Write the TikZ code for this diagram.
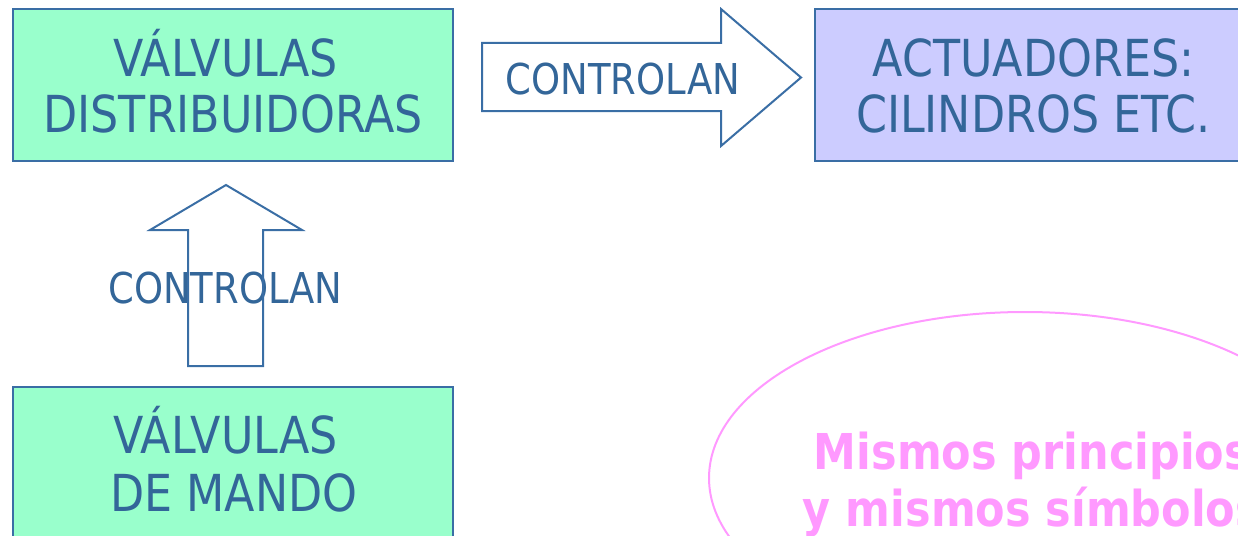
\documentclass[tikz,border=0pt]{standalone}
\usepackage{fontspec}
\setmainfont{DejaVu Sans}[FakeStretch=0.87]
\usetikzlibrary{shapes.geometric}
\definecolor{txtblue}{HTML}{336699}
\definecolor{lineblue}{HTML}{3A6EA5}
\definecolor{mint}{HTML}{99FFCC}
\definecolor{lav}{HTML}{CCCCFF}
\definecolor{pinkc}{HTML}{FF99FF}
\tikzset{
  box/.style={draw=lineblue, line width=2pt, minimum width=440pt, minimum height=152pt, inner sep=0pt},
  btxt/.style={text=txtblue, font=\fontsize{51pt}{56pt}\selectfont, inner sep=0pt, anchor=base},
  ctxt/.style={text=txtblue, font=\fontsize{42.5pt}{48pt}\selectfont, inner sep=0pt, anchor=base},
  ptxt/.style={text=pinkc, font=\bfseries\fontsize{49.4pt}{56pt}\selectfont, inner sep=0pt, anchor=base},
  blockarrow/.style={draw=lineblue, line width=2pt, line join=miter},
  oval/.style={ellipse, draw=pinkc, line width=2pt, minimum width=632pt, minimum height=332pt, inner sep=0pt}
}
\begin{document}
\begin{tikzpicture}[x=1pt,y=-1pt]
\useasboundingbox (0,0) rectangle (1238,535);
\clip (0,0) rectangle (1238,535);
% boxes
\node[box, fill=mint] (vd) at (233,85) {};
\node[box, fill=lav] (act) at (1035,85) {};
\node[box, fill=mint] (vm) at (233,463) {};
\node[btxt] (vd1) at (225.5,76) {VÁLVULAS};
\node[btxt] (vd2) at (233,132) {DISTRIBUIDORAS};
\node[btxt] (act1) at (1033.5,76) {ACTUADORES:};
\node[btxt] (act2) at (1033.5,132) {CILINDROS ETC.};
\node[btxt] (vm1) at (225.5,453) {VÁLVULAS};
\node[btxt] (vm2) at (234,511) {DE MANDO};
% right block arrow
\draw[blockarrow, fill=white] (482,43) -- (721,43) -- (721,9) -- (801,77.5) -- (721,146) -- (721,111) -- (482,111) -- cycle;
\node[ctxt] (c1) at (623,94) {CONTROLAN};
% up block arrow
\node[ctxt] (c2) at (225.5,303) {CONTROLAN};
\draw[blockarrow] (188,366) -- (188,230) -- (150,230) -- (226,185) -- (302,230) -- (263,230) -- (263,366) -- cycle;
% ellipse
\node[oval] (el) at (1025,478) {};
\node[ptxt] (p1) at (1032,469) {Mismos principios};
\node[ptxt] (p2) at (1032,526) {y mismos símbolos};
\end{tikzpicture}
\end{document}
